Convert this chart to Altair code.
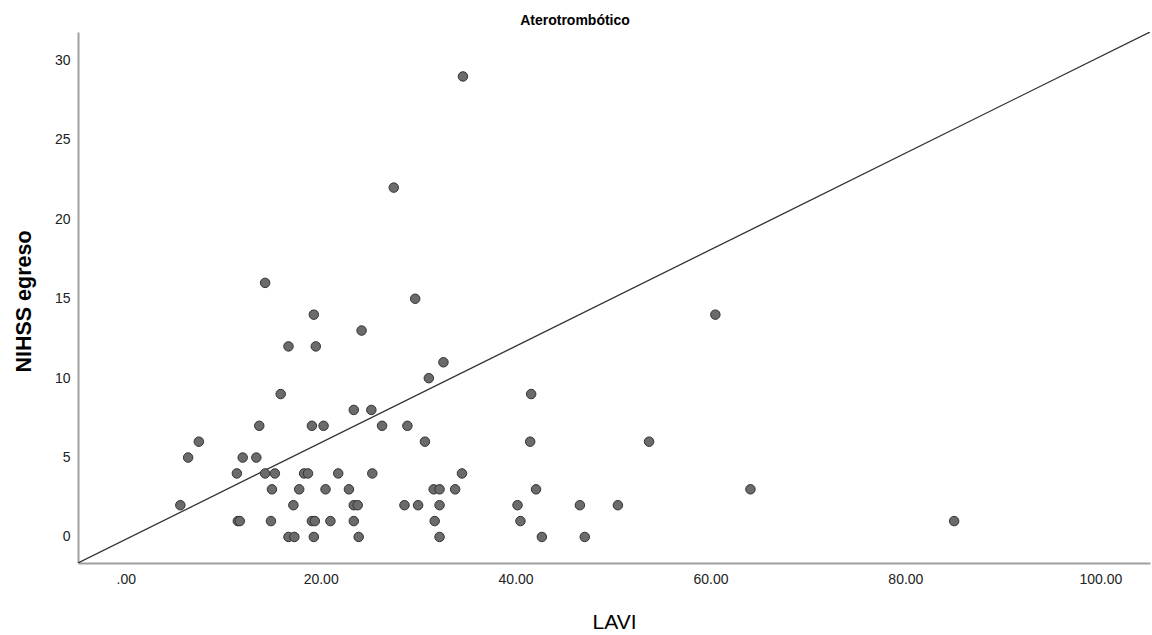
import altair as alt
import pandas as pd

# LAVI (x) and NIHSS egreso (y) values
lavi = [14.3, 29.7, 19.3, 24.2, 16.7, 19.5, 32.6, 31.1, 15.9, 23.4, 25.2,
        13.7, 19.1, 20.3, 26.3, 28.9, 7.5, 30.7, 6.4, 12.0, 13.4,
        11.4, 14.3, 15.3, 18.3, 18.7, 21.8, 25.3, 34.5,
        15.0, 17.8, 20.5, 22.9, 31.6, 32.2, 33.8,
        5.6, 17.2, 23.4, 23.8, 28.6, 30.0, 32.2,
        11.5, 11.7, 14.9, 19.1, 19.4, 21.0, 23.4, 31.7,
        16.7, 17.3, 19.3, 23.9, 32.2,
        41.6, 41.5, 53.7, 60.5, 42.1, 64.1, 40.2, 46.6, 50.5, 40.5,
        42.7, 47.1, 85.0, 27.5, 34.6]
nihss = [16, 15, 14, 13, 12, 12, 11, 10, 9, 8, 8,
         7, 7, 7, 7, 7, 6, 6, 5, 5, 5,
         4, 4, 4, 4, 4, 4, 4, 4,
         3, 3, 3, 3, 3, 3, 3,
         2, 2, 2, 2, 2, 2, 2,
         1, 1, 1, 1, 1, 1, 1, 1,
         0, 0, 0, 0, 0,
         9, 6, 6, 14, 3, 3, 2, 2, 2, 1,
         0, 0, 1, 22, 29]

x_ticks = [0, 20, 40, 60, 80, 100]
y_ticks = [0, 5, 10, 15, 20, 25, 30]
x_domain = [-4.9, 105.1]
y_domain = [-1.64, 31.8]

# diagonal reference line spanning the plot corners
ref_x = [x_domain[0], x_domain[1]]
ref_y = [y_domain[0], y_domain[1]]

df = pd.DataFrame({"LAVI": lavi, "NIHSS": nihss})
ref = pd.DataFrame({"LAVI": ref_x, "NIHSS": ref_y})

FONT = "Liberation Sans"

xscale = alt.Scale(domain=x_domain, nice=False, zero=False)
yscale = alt.Scale(domain=y_domain, nice=False, zero=False)

xaxis = alt.Axis(
    title="LAVI", values=x_ticks, grid=False, ticks=False,
    labelExpr="datum.value == 0 ? '.00' : format(datum.value, '.2f')",
    labelFont=FONT, labelFontSize=14, labelColor="#222", labelPadding=9,
    titleFont=FONT, titleFontSize=21, titleFontWeight="normal", titleColor="#000",
    titleY=48, titleBaseline="top",
    domainColor="#a0a0a0", domainWidth=2,
)
yaxis = alt.Axis(
    title="NIHSS egreso", values=y_ticks, grid=False, ticks=False,
    labelFont=FONT, labelFontSize=14, labelColor="#222", labelPadding=8,
    titleFont=FONT, titleFontSize=21.5, titleFontWeight="bold", titleColor="#000",
    titleX=-42.5, titleY=269, titleAngle=-90, titleBaseline="bottom", titleAlign="center",
    domainColor="#a0a0a0", domainWidth=2,
)

points = alt.Chart(df).mark_point(
    shape="circle", filled=True, size=90, fill="#6b6b6b", stroke="#333333",
    strokeWidth=1, opacity=1,
).encode(
    x=alt.X("LAVI:Q", scale=xscale, axis=xaxis),
    y=alt.Y("NIHSS:Q", scale=yscale, axis=yaxis),
)

line = alt.Chart(ref).mark_line(color="#333333", strokeWidth=1.3, clip=True).encode(
    x=alt.X("LAVI:Q", scale=xscale),
    y=alt.Y("NIHSS:Q", scale=yscale),
)

chart = alt.layer(line, points).properties(
    width=1072, height=531,
    padding={"left": 78, "top": 32, "right": 2, "bottom": 72},
    autosize="none",
    title=alt.TitleParams(
        "Aterotrombótico", font=FONT, fontSize=14, fontWeight="bold",
        color="#000", anchor="middle", dx=-39, offset=4,
    ),
).configure(background="white").configure_view(strokeWidth=0)

chart.save("out.html", embed_options={"renderer": "svg", "actions": False})
